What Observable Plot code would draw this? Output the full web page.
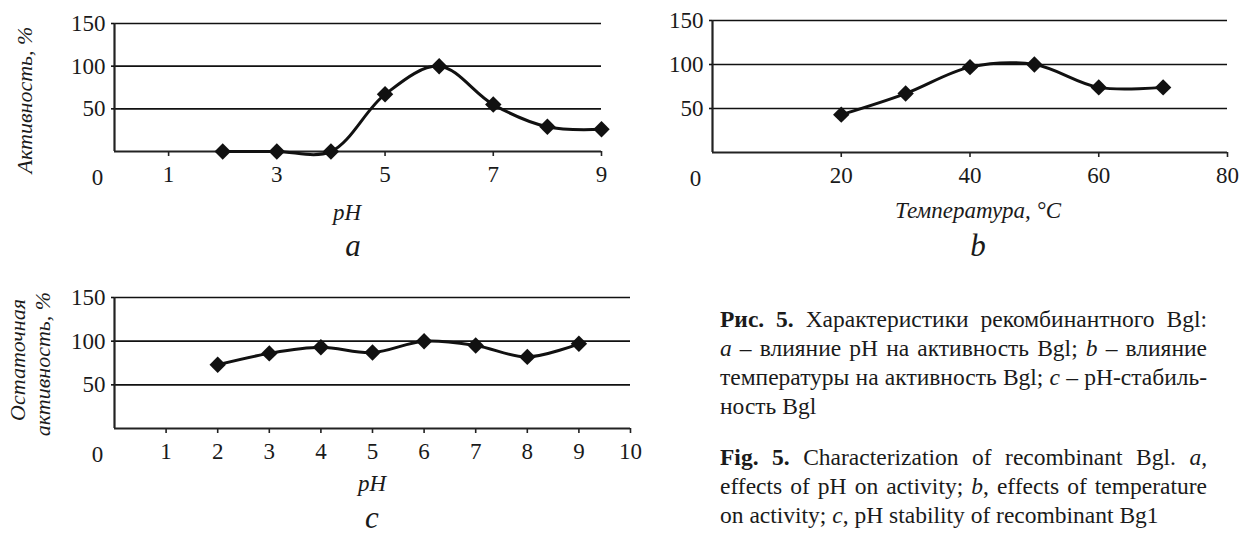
<!DOCTYPE html>
<html>
<head>
<meta charset="utf-8">
<script src="https://cdn.jsdelivr.net/npm/d3@7"></script>
<script src="https://cdn.jsdelivr.net/npm/@observablehq/plot@0.6"></script>
<style>
  html, body { margin: 0; padding: 0; background: #fff; }
  body { width: 1239px; height: 535px; position: relative; overflow: hidden;
         font-family: "Liberation Serif", "DejaVu Serif", serif; color: #1a1a1a; }
  .panel { position: absolute; }
  .lbl { position: absolute; white-space: nowrap; transform: translate(-50%, -50%);
         font-style: italic; font-size: 23px; line-height: 1; }
  .rot { transform: translate(-50%, -50%) rotate(-90deg); font-size: 22px; }
  .big { font-size: 31px; line-height: 0.7; }
  .cap { position: absolute; left: 720px; width: 487px; font-size: 23.5px; line-height: 29px; }
  .cap div { text-align: justify; text-align-last: justify; white-space: nowrap; }
  .cap div.last { text-align-last: left; }
</style>
</head>
<body>
<script>
// ---- data ----
const yTicks = [50, 100, 150];

const phA = [2, 3, 4, 5, 6, 7, 8, 9];
const actA = [0, 0, 0, 67, 100, 55, 29, 26];
const xTicksA = [1, 3, 5, 7, 9];

const tempB = [20, 30, 40, 50, 60, 70];
const actB = [43, 67, 97, 100, 74, 74];
const xTicksB = [20, 40, 60, 80];

const phC = [2, 3, 4, 5, 6, 7, 8, 9];
const actC = [73, 86, 93, 87, 100, 95, 82, 97];
const xTicksC = [1, 2, 3, 4, 5, 6, 7, 8, 9, 10];

function panel({xs, ys, xDomain, xTicks, width, height, marginLeft, marginRight, marginTop, marginBottom}) {
  const data = xs.map((x, i) => ({x, y: ys[i]}));
  return Plot.plot({
    width, height, marginLeft, marginRight, marginTop, marginBottom,
    style: {fontFamily: "Liberation Serif", fontSize: "23px", color: "#1a1a1a",
            background: "transparent", overflow: "visible"},
    x: {domain: xDomain, axis: null},
    y: {domain: [0, 150], axis: null},
    marks: [
      Plot.ruleY(yTicks, {x1: xDomain[0], x2: xDomain[1], stroke: "#111", strokeWidth: 1.6}),
      Plot.ruleY([0], {x1: xDomain[0], x2: xDomain[1], stroke: "#222", strokeWidth: 2.2}),
      Plot.ruleX([xDomain[0]], {y1: 0, y2: 150, stroke: "#222", strokeWidth: 2.2}),
      Plot.axisY({ticks: yTicks, label: null, tickSize: 3, tickPadding: 6, stroke: "#111", strokeWidth: 1.6,
                  fontSize: 23, fill: "#1a1a1a"}),
      Plot.axisX({ticks: xTicks, label: null, tickSize: 5, tickPadding: 9, stroke: "#222", strokeWidth: 1.6,
                  fontSize: 23, fill: "#1a1a1a"}),
      Plot.text(["0"], {x: xDomain[0], y: 0, text: d => d, dx: -17, dy: 26, fontSize: 23, fill: "#1a1a1a"}),
      Plot.line(data, {x: "x", y: "y", curve: "catmull-rom", stroke: "#111", strokeWidth: 3}),
      Plot.dot(data, {x: "x", y: "y", symbol: "diamond2", r: 7.4, fill: "#111", stroke: "none"})
    ]
  });
}

function place(node, left, top) {
  const d = document.createElement("div");
  d.className = "panel";
  d.style.left = left + "px";
  d.style.top = top + "px";
  d.appendChild(node);
  document.body.appendChild(d);
}

place(panel({xs: phA, ys: actA, xDomain: [0, 9], xTicks: xTicksA,
  width: 625, height: 200, marginLeft: 114, marginRight: 24, marginTop: 23, marginBottom: 49}), 0, 0);
place(panel({xs: tempB, ys: actB, xDomain: [0, 80], xTicks: xTicksB,
  width: 619, height: 200, marginLeft: 92, marginRight: 12, marginTop: 20, marginBottom: 48}), 620, 0);
place(panel({xs: phC, ys: actC, xDomain: [0, 10], xTicks: xTicksC,
  width: 650, height: 200, marginLeft: 114, marginRight: 20, marginTop: 27, marginBottom: 42}), 0, 270);

function label(text, x, y, cls) {
  const d = document.createElement("div");
  d.className = "lbl " + (cls || "");
  d.style.left = x + "px";
  d.style.top = y + "px";
  d.textContent = text;
  document.body.appendChild(d);
}
label("Активность, %", 25, 100, "rot");
label("pH", 347, 212);
label("a", 353, 246, "big");
label("Температура, °C", 978, 210);
label("b", 978, 246, "big");
label("Остаточная", 18, 360, "rot");
label("активность, %", 43, 364, "rot");
label("pH", 372, 483);
label("c", 372, 518, "big");
</script>
<div class="cap" style="top:305px">
  <div><b>Рис. 5.</b> Характеристики рекомбинантного Bgl:</div>
  <div><i>a</i> – влияние pH на активность Bgl; <i>b</i> – влияние</div>
  <div>температуры на активность Bgl; <i>c</i> – pH-стабиль-</div>
  <div class="last">ность Bgl</div>
</div>
<div class="cap" style="top:443px">
  <div><b>Fig. 5.</b> Characterization of recombinant Bgl. <i>a</i>,</div>
  <div>effects of pH on activity; <i>b</i>, effects of temperature</div>
  <div class="last">on activity; <i>c</i>, pH stability of recombinant Bg1</div>
</div>
</body>
</html>
